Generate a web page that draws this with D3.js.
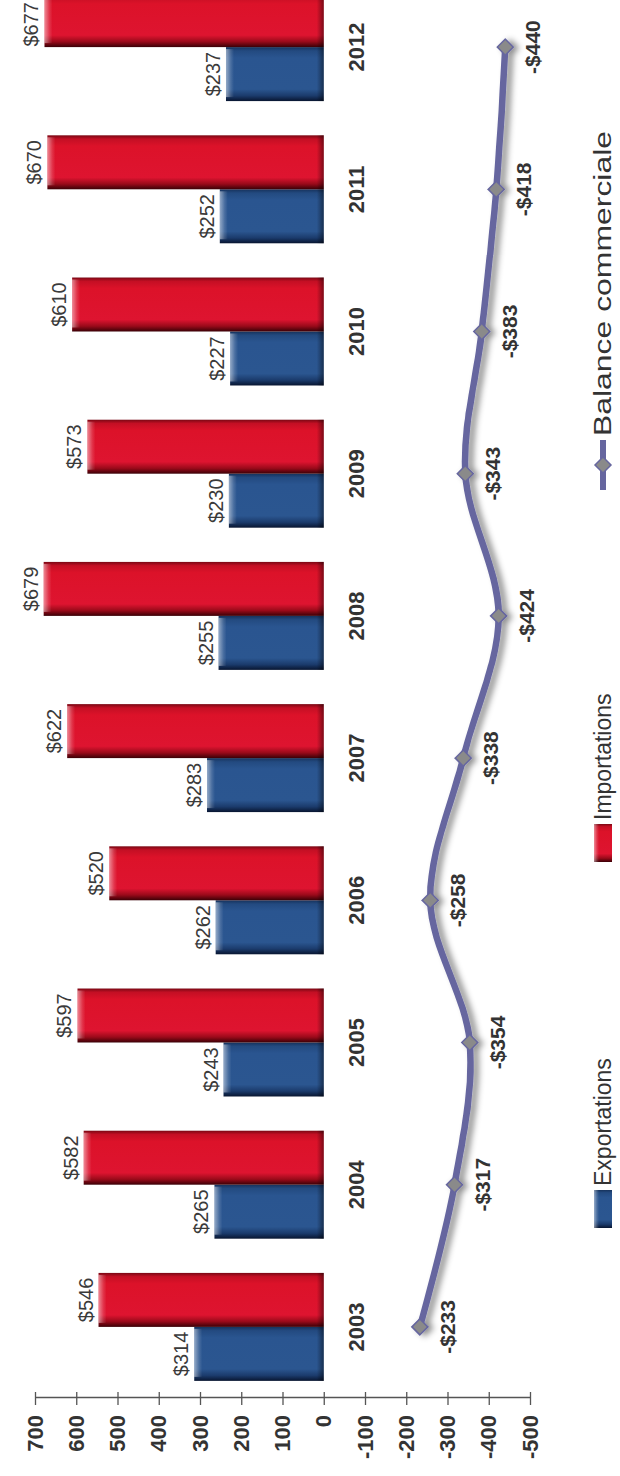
<!DOCTYPE html>
<html><head><meta charset="utf-8">
<script src="https://cdn.jsdelivr.net/npm/d3@7"></script>
<style>body{margin:0;background:#fff}svg{display:block}text{font-family:"Liberation Sans",Arial,sans-serif}</style>
</head><body>
<svg id="c" width="620" height="1476"></svg>
<script>
const years = ["2003","2004","2005","2006","2007","2008","2009","2010","2011","2012"];
const exportations = [314,265,243,262,283,255,230,227,252,237];
const importations = [546,582,597,520,622,679,573,610,670,677];
const balance = [-233,-317,-354,-258,-338,-424,-343,-383,-418,-440];
const valueTicks = [700,600,500,400,300,200,100,0,-100,-200,-300,-400,-500];
const seriesNames = ["Exportations","Importations","Balance commerciale"];

const svg = d3.select("#c");
const defs = svg.append("defs");

function barGrad(id, stops){
  const gr = defs.append("linearGradient").attr("id",id).attr("x1","0").attr("x2","1").attr("y1","0").attr("y2","0");
  stops.forEach(s=>gr.append("stop").attr("offset",s[0]).attr("stop-color",s[1]));
}
barGrad("gRed",[[0,"#3a0006"],[0.1,"#9a0a1a"],[0.22,"#de1430"],[0.8,"#dc1229"],[0.93,"#c40f24"],[1,"#7a0814"]]);
barGrad("gBlue",[[0,"#081530"],[0.1,"#1b3b6c"],[0.22,"#2b5690"],[0.8,"#2a5590"],[0.93,"#234a80"],[1,"#16325c"]]);
function vGrad(id, stops){
  const gr = defs.append("linearGradient").attr("id",id).attr("x1","0").attr("x2","0").attr("y1","0").attr("y2","1");
  stops.forEach(s=>gr.append("stop").attr("offset",s[0]).attr("stop-color",s[1][0]).attr("stop-opacity",s[1][1]));
}
vGrad("gTop",[[0,["#ffffff",0.5]],[0.6,["#ffffff",0.15]],[1,["#ffffff",0]]]);
vGrad("gBot",[[0,["#000000",0]],[1,["#000000",0.45]]]);

const f = defs.append("filter").attr("id","sh").attr("x","-20%").attr("y","-20%").attr("width","140%").attr("height","140%");
f.append("feDropShadow").attr("dx",-1).attr("dy",5).attr("stdDeviation",3).attr("flood-color","#000").attr("flood-opacity",0.45);

// rotated group: unrotated frame is 1476 wide x 620 tall
const W = 1476;
const g = svg.append("g").attr("transform","translate(0,1476) rotate(-90)");

const x = d3.scaleBand().domain(years).range([78, 78+1422]).paddingInner(0).paddingOuter(0);
const xs = d3.scaleBand().domain(["exp","imp"]).range([0, x.bandwidth()]).paddingInner(0).paddingOuter(0.317);
const y = d3.scaleLinear().domain([-500,700]).range([530,35]);

// axis
const ax = g.append("g").attr("transform","translate(78,0)")
  .call(d3.axisLeft(y).tickValues(valueTicks).tickSizeInner(7).tickSizeOuter(0).tickPadding(10).tickFormat(d=>String(d)));
ax.select(".domain").attr("stroke","#555").attr("stroke-width",1.3);
ax.selectAll(".tick line").attr("x1",6).attr("x2",-7).attr("stroke","#555").attr("stroke-width",1.3);
ax.selectAll(".tick text").attr("font-size",22).attr("font-weight","bold").attr("fill","#333")
  .attr("font-family","'Liberation Sans',Arial,sans-serif");

// bars
function drawBars(vals, key, grad){
  const gg = g.append("g");
  vals.forEach((v,i)=>{
    const bx = x(years[i]) + xs(key), bw = xs.bandwidth();
    const top = y(v), bot = y(0);
    gg.append("rect").attr("x",bx).attr("y",top).attr("width",bw).attr("height",bot-top).attr("fill",`url(#${grad})`);
    gg.append("rect").attr("x",bx+4).attr("y",top).attr("width",bw-6).attr("height",8).attr("fill","url(#gTop)");
    gg.append("rect").attr("x",bx).attr("y",bot-7).attr("width",bw).attr("height",7).attr("fill","url(#gBot)");
    const t = gg.append("text").attr("y",top-6).attr("text-anchor","middle")
      .attr("font-size",20).attr("fill","#3a3a3a").text("$"+v);
    const half = t.node().getComputedTextLength()/2;
    t.attr("x", Math.min(bx+bw/2, W-2-half));
  });
}
drawBars(exportations,"exp","gBlue");
drawBars(importations,"imp","gRed");

// category labels
g.append("g").selectAll("text").data(years).join("text")
  .attr("x",d=>x(d)+x.bandwidth()/2).attr("y",y(0)+40).attr("text-anchor","middle")
  .attr("font-size",22).attr("font-weight","bold").attr("fill","#333").text(d=>d);

// balance line
const pts = balance.map((v,i)=>[x(years[i])+x.bandwidth()/2, y(v)]);
const lg = g.append("g").attr("filter","url(#sh)");
lg.append("path").attr("d",d3.line().curve(d3.curveCatmullRom.alpha(0.5))(pts))
  .attr("fill","none").attr("stroke","#66669f").attr("stroke-width",6.5).attr("stroke-linecap","round");
lg.selectAll("path.m").data(pts).join("path").attr("class","m")
  .attr("transform",d=>`translate(${d[0]},${d[1]})`)
  .attr("d","M0,-8 L8,0 L0,8 L-8,0 Z").attr("fill","#8a8a8a").attr("stroke","#66669f").attr("stroke-width",1.5);
g.append("g").selectAll("text").data(balance).join("text")
  .attr("x",(d,i)=>pts[i][0]).attr("y",(d,i)=>pts[i][1]+35).attr("text-anchor","middle")
  .attr("font-size",21).attr("font-weight","bold").attr("fill","#333")
  .text(d=>"-$"+Math.abs(d));

// legend
const ly = 603;
const leg = g.append("g");
function legBar(x0, grad){
  leg.append("rect").attr("x",x0).attr("y",ly-9).attr("width",38).attr("height",18).attr("fill",`url(#${grad})`);
  leg.append("rect").attr("x",x0).attr("y",ly-9).attr("width",38).attr("height",5).attr("fill","url(#gTop)");
}
legBar(248,"gBlue");
leg.append("text").attr("x",290).attr("y",ly+8).attr("font-size",23).attr("fill","#333").text(seriesNames[0]);
legBar(614,"gRed");
leg.append("text").attr("x",656).attr("y",ly+8).attr("font-size",23).attr("fill","#333").text(seriesNames[1]);
leg.append("line").attr("x1",986).attr("x2",1036).attr("y1",ly).attr("y2",ly).attr("stroke","#66669f").attr("stroke-width",6);
leg.append("path").attr("transform",`translate(1011,${ly})`).attr("d","M0,-8 L8,0 L0,8 L-8,0 Z").attr("fill","#8a8a8a").attr("stroke","#66669f").attr("stroke-width",1.5);
leg.append("text").attr("x",1040).attr("y",ly+8).attr("font-size",23).attr("fill","#333")
  .attr("textLength",305).attr("lengthAdjust","spacingAndGlyphs").text(seriesNames[2]);
</script>
</body></html>
